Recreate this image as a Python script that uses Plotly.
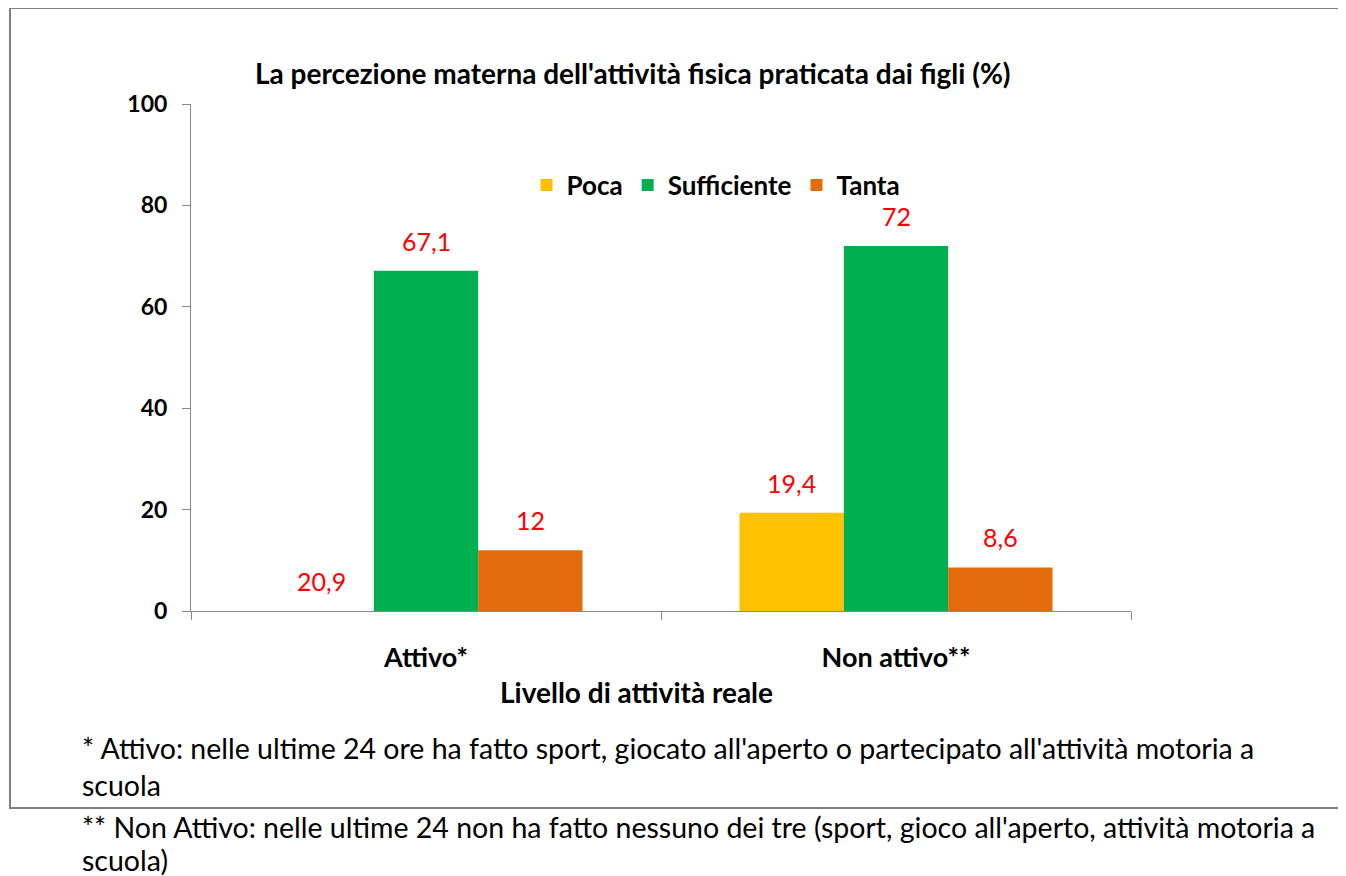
import plotly.graph_objects as go

categories = ["Attivo*", "Non attivo**"]
series_names = ["Poca", "Sufficiente", "Tanta"]
poca_values = [0, 19.4]          # bar for Attivo/Poca is not drawn in the original
poca_labels = ["20,9", "19,4"]
sufficiente_values = [67.1, 72]
sufficiente_labels = ["67,1", "72"]
tanta_values = [12, 8.6]
tanta_labels = ["12", "8,6"]
colors = ["#FFC000", "#00B050", "#E46C0A"]

title_text = "La percezione materna dell'attività fisica praticata dai figli (%)"
xaxis_title = "Livello di attività reale"
footnotes = [
    "* Attivo: nelle ultime 24 ore ha fatto sport, giocato all'aperto o partecipato all'attività motoria a",
    "scuola",
    "** Non Attivo: nelle ultime 24 non ha fatto nessuno dei tre (sport, gioco all'aperto, attività motoria a",
    "scuola)",
]

OFF = 8  # page body margin
W, H = 1346 - OFF, 876 - OFF
L, R, T, B = 191, 1131, 104, 611   # plot area in screenshot pixels
FONT = "Lato, Open Sans, sans-serif"
BARGAP = 0.334


def px(x):
    return (x - L) / (R - L)


def py(y):
    return (B - y) / (B - T)


fig = go.Figure()
all_vals = [poca_values, sufficiente_values, tanta_values]
all_labs = [poca_labels, sufficiente_labels, tanta_labels]
for name, vals, col in zip(series_names, all_vals, colors):
    fig.add_trace(go.Bar(
        x=categories, y=vals, name=name, marker=dict(color=col, line=dict(width=0)),
    ))

fig.update_layout(
    width=W, height=H,
    margin=dict(l=L - OFF, r=W - (R - OFF), t=T - OFF, b=H - (B - OFF), autoexpand=False),
    paper_bgcolor="white", plot_bgcolor="white",
    barmode="group", bargap=BARGAP, bargroupgap=0,
    font=dict(family=FONT, color="black"),
    showlegend=True,
    legend=dict(orientation="h", x=px(716), y=py(185), xanchor="center", yanchor="middle",
                font=dict(size=26, family=FONT, color="black", weight="bold"),
                bgcolor="rgba(0,0,0,0)", traceorder="normal"),
)
fig.update_xaxes(
    showline=True, linecolor="#888888", linewidth=1,
    ticks="outside", tickson="boundaries", ticklen=8, tickcolor="#888888",
    ticklabelstandoff=23,
    tickfont=dict(size=27, family=FONT, weight="bold", color="black"),
    showgrid=False,
)
fig.update_yaxes(
    range=[0, 100], dtick=20, showline=True, linecolor="#888888", linewidth=1,
    ticks="outside", ticklen=8, tickcolor="#888888", ticklabelstandoff=10,
    tickfont=dict(size=23, family=FONT, weight="bold", color="black"),
    showgrid=False, zeroline=False,
)

# value labels above the bars
cat_px = (R - L) / len(categories)
bar_w = cat_px * (1 - BARGAP) / len(series_names)
for j, (vals, labs) in enumerate(zip(all_vals, all_labs)):
    for i, (v, lab) in enumerate(zip(vals, labs)):
        fig.add_annotation(x=categories[i], y=v, xref="x", yref="y", text=lab,
                           xshift=(j - 1) * bar_w, yshift=13, yanchor="bottom",
                           showarrow=False,
                           font=dict(color="#FF0000", size=25, family=FONT))

# outer border
fig.add_shape(type="rect", xref="paper", yref="paper",
              x0=px(10), x1=px(1340), y0=py(808), y1=py(8),
              line=dict(color="#7F7F7F", width=2), fillcolor="rgba(0,0,0,0)", layer="below")

fig.add_annotation(text=f"<b>{title_text}</b>", xref="paper", yref="paper",
                   x=px(633), y=py(73), xanchor="center", yanchor="middle", showarrow=False,
                   font=dict(size=28, family=FONT, color="black"))
fig.add_annotation(text=f"<b>{xaxis_title}</b>", xref="paper", yref="paper",
                   x=px(636), y=py(692), xanchor="center", yanchor="middle", showarrow=False,
                   font=dict(size=28, family=FONT, color="black"))

for txt, yy in zip(footnotes, [748, 785, 827, 860]):
    fig.add_annotation(text=txt, xref="paper", yref="paper",
                       x=px(80), y=py(yy), xanchor="left", yanchor="middle", showarrow=False,
                       font=dict(size=28.5, family=FONT, color="black"))

fig.write_html("out.html")
